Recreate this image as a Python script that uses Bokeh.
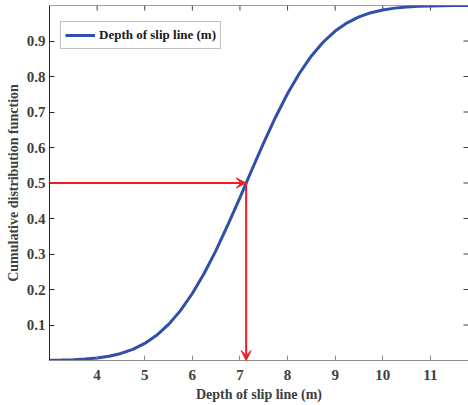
import math
from bokeh.plotting import figure
from bokeh.models import Range1d, FixedTicker, Arrow, VeeHead, Legend, LegendItem, Span
from bokeh.embed import file_html
from bokeh.resources import INLINE

# CDF curve
depth = [3.0, 3.25, 3.5, 3.75, 4.0, 4.25, 4.5, 4.75, 5.0, 5.25, 5.5, 5.75, 6.0, 6.25,
         6.5, 6.75, 7.0, 7.25, 7.5, 7.75, 8.0, 8.25, 8.5, 8.75, 9.0, 9.25, 9.5, 9.75,
         10.0, 10.25, 10.5, 10.75, 11.0, 11.25, 11.5, 11.8]
cdf = [0.0006, 0.0012, 0.0023, 0.0041, 0.0072, 0.0122, 0.0199, 0.0315, 0.048, 0.0709,
       0.1015, 0.1405, 0.1887, 0.2459, 0.311, 0.3833, 0.459, 0.5373, 0.614, 0.686,
       0.752, 0.8092, 0.858, 0.8972, 0.928, 0.9511, 0.968, 0.9797, 0.9875, 0.9926,
       0.9958, 0.9977, 0.9987, 0.9994, 0.9997, 0.9999]
x_ticks = [4, 5, 6, 7, 8, 9, 10, 11]
y_ticks = [0.1, 0.2, 0.3, 0.4, 0.5, 0.6, 0.7, 0.8, 0.9]
median_depth = 7.13
median_prob = 0.5
x_start, x_end = 3.0, 11.8
y_start, y_end = 0.0, 1.0

FONT = "Liberation Serif"
TXT = "#404040"
BLUE = "#2f4fa8"
RED = "#f01e24"

p = figure(width=468, height=405, output_backend="svg", toolbar_location=None,
           x_range=Range1d(x_start, x_end), y_range=Range1d(y_start, y_end),
           min_border_left=49, min_border_right=0, min_border_top=5, min_border_bottom=45,
           x_axis_label="Depth of slip line (m)", y_axis_label="Cumulative distribution function")
p.outline_line_color = None
p.xgrid.visible = False
p.ygrid.visible = False
p.background_fill_color = "white"
p.border_fill_color = "white"

xa = p.xaxis[0]
xa.ticker = FixedTicker(ticks=x_ticks)
xa.axis_line_color = "#8c8c8c"
xa.major_tick_line_color = "#8c8c8c"
xa.minor_tick_line_color = None
xa.major_tick_in = 5
xa.major_tick_out = 0
xa.major_label_standoff = 9
xa.axis_label_standoff = 4

ya = p.yaxis[0]
ya.ticker = FixedTicker(ticks=y_ticks)
ya.axis_line_color = "#262626"
ya.major_tick_line_color = "#262626"
ya.minor_tick_line_color = None
ya.major_tick_in = 5
ya.major_tick_out = 0
ya.major_label_standoff = 4
ya.axis_label_standoff = 3

for ax in (xa, ya):
    ax.major_label_text_font = FONT
    ax.major_label_text_font_style = "bold"
    ax.major_label_text_font_size = "15px"
    ax.major_label_text_color = TXT
    ax.axis_label_text_font = FONT
    ax.axis_label_text_font_style = "bold"
    ax.axis_label_text_font_size = "14px"
    ax.axis_label_text_color = TXT

# top box line and inward ticks on the top and right sides
p.add_layout(Span(location=y_end, dimension="width", line_color="#404040", line_width=1.2))
p.ray(x=x_ticks, y=[y_end] * len(x_ticks), length=5, length_units="screen",
      angle=-math.pi / 2, line_color="#404040", line_width=1)
p.ray(x=[x_end] * len(y_ticks), y=y_ticks, length=5, length_units="screen",
      angle=math.pi, line_color="#404040", line_width=1)

r = p.line(depth, cdf, line_color=BLUE, line_width=3)

p.add_layout(Arrow(x_start=x_start, y_start=median_prob, x_end=median_depth, y_end=median_prob,
                   line_color=RED, line_width=2,
                   end=VeeHead(size=10, fill_color=RED, line_color=RED, line_width=1)))
p.add_layout(Arrow(x_start=median_depth, y_start=median_prob, x_end=median_depth, y_end=y_start,
                   line_color=RED, line_width=2,
                   end=VeeHead(size=10, fill_color=RED, line_color=RED, line_width=1)))

legend = Legend(items=[LegendItem(label="Depth of slip line (m)", renderers=[r])],
                location=(11, 311), padding=4, spacing=0, margin=0,
                glyph_width=30, glyph_height=18, label_height=18, label_standoff=4,
                label_text_font=FONT, label_text_font_style="bold",
                label_text_font_size="13px", label_text_color="#1a1a1a",
                border_line_color="#808080", border_line_width=1,
                background_fill_color="white", background_fill_alpha=1)
p.add_layout(legend)

open("out.html", "w").write(file_html(p, INLINE))
